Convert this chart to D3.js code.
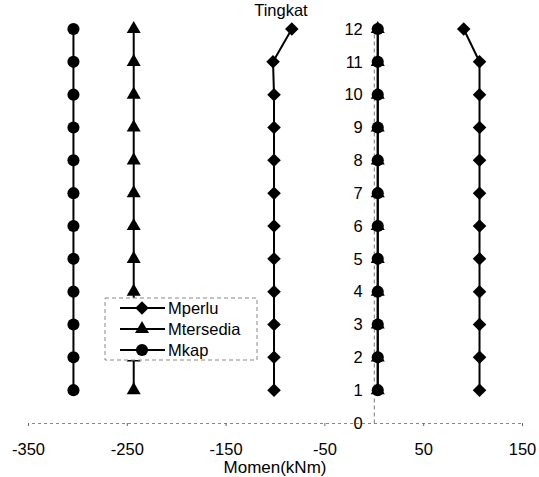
<!DOCTYPE html>
<html>
<head>
<meta charset="utf-8">
<script src="https://cdn.jsdelivr.net/npm/d3@7"></script>
<style>
  html, body { margin: 0; padding: 0; background: #fff; }
  svg { display: block; font-family: "Liberation Sans", Arial, sans-serif; }
</style>
</head>
<body>
<svg id="chart" width="539" height="477"></svg>
<script>
// Floor levels (Tingkat)
const levels = [1, 2, 3, 4, 5, 6, 7, 8, 9, 10, 11, 12];

// Negative moment side (kNm)
const mperluNeg     = [-101, -101, -101, -101, -101, -101, -101, -101, -101, -101, -102, -83];
const mtersediaNeg  = [-243, -243, -243, -243, -243, -243, -243, -243, -243, -243, -243, -243];
const mkapNeg       = [-304, -304, -304, -304, -304, -304, -304, -304, -304, -304, -304, -304];

// Positive moment side (kNm)
const mperluPos     = [107, 107, 107, 107, 107, 107, 107, 107, 107, 107, 107, 91];
const mtersediaPos  = [4, 4, 4, 4, 4, 4, 4, 4, 4, 4, 4, 4];
const mkapPos       = [4, 4, 4, 4, 4, 4, 4, 4, 4, 4, 4, 4];

const xTicks = [-350, -250, -150, -50, 50, 150];
const yTicks = [0, 1, 2, 3, 4, 5, 6, 7, 8, 9, 10, 11, 12];
const seriesNames = ["Mperlu", "Mtersedia", "Mkap"];

const svg = d3.select("#chart");
const x = d3.scaleLinear().domain([-350, 150]).range([28, 522]);
const y = d3.scaleLinear().domain([0, 12]).range([423, 29]);
const fmt = d => String(d);

// Horizontal axis through zero level
const xAxis = svg.append("g")
  .attr("transform", `translate(0,${y(0)})`)
  .call(d3.axisBottom(x).tickValues(xTicks).tickSize(3).tickSizeOuter(3).tickPadding(17).tickFormat(fmt));
xAxis.select(".domain").attr("stroke", "#888").attr("stroke-dasharray", "3,3");
xAxis.selectAll(".tick line").attr("stroke", "#666");
xAxis.selectAll("text").attr("font-size", 16.5).attr("fill", "#000");

// Vertical axis through zero moment
const yAxis = svg.append("g")
  .attr("transform", `translate(${x(0)},0)`)
  .call(d3.axisLeft(y).tickValues(yTicks).tickSize(0).tickPadding(11).tickFormat(fmt));
yAxis.select(".domain").attr("stroke", "#777").attr("stroke-dasharray", "4,3");
yAxis.selectAll("text").attr("font-size", 16.5).attr("fill", "#000");

svg.append("text")
  .attr("x", x(-94)).attr("y", 16)
  .attr("text-anchor", "middle").attr("font-size", 16.5)
  .text("Tingkat");

svg.append("text")
  .attr("x", x(-100)).attr("y", 473)
  .attr("text-anchor", "middle").attr("font-size", 17)
  .text("Momen(kNm)");

// Square diamond marker (equal width and height)
const squareDiamond = {
  draw(ctx, size) {
    const r = Math.sqrt(size / 2);
    ctx.moveTo(0, -r); ctx.lineTo(r, 0); ctx.lineTo(0, r); ctx.lineTo(-r, 0); ctx.closePath();
  }
};

const symbols = {
  Mperlu: d3.symbol().type(squareDiamond).size(92),
  Mtersedia: d3.symbol().type(d3.symbolTriangle).size(85),
  Mkap: d3.symbol().type(d3.symbolCircle).size(115)
};

const line = d3.line().x(d => x(d.v)).y(d => y(d.lvl));

function drawSeries(values, name) {
  const pts = levels.map((lvl, i) => ({ lvl, v: values[i] }));
  svg.append("path").datum(pts)
    .attr("d", line).attr("fill", "none")
    .attr("stroke", "#000").attr("stroke-width", 2);
  svg.selectAll(null).data(pts).enter().append("path")
    .attr("d", symbols[name])
    .attr("transform", d => `translate(${x(d.v)},${y(d.lvl)})`)
    .attr("fill", "#000");
}

drawSeries(mperluNeg, "Mperlu");
drawSeries(mperluPos, "Mperlu");
drawSeries(mtersediaNeg, "Mtersedia");
drawSeries(mtersediaPos, "Mtersedia");
drawSeries(mkapNeg, "Mkap");
drawSeries(mkapPos, "Mkap");

// Legend
const legend = svg.append("g").attr("transform", "translate(105,298)");
legend.append("rect")
  .attr("width", 152).attr("height", 62)
  .attr("fill", "#fff").attr("stroke", "#888").attr("stroke-dasharray", "4,3");
seriesNames.forEach((name, i) => {
  const g = legend.append("g").attr("transform", `translate(0,${10 + i * 21})`);
  g.append("line").attr("x1", 15).attr("x2", 60).attr("y1", 0).attr("y2", 0)
    .attr("stroke", "#000").attr("stroke-width", 2);
  g.append("path").attr("d", symbols[name]).attr("transform", "translate(37,0)").attr("fill", "#000");
  g.append("text").attr("x", 63).attr("y", 0).attr("dy", "0.35em")
    .attr("font-size", 16.5).text(name);
});
</script>
</body>
</html>
